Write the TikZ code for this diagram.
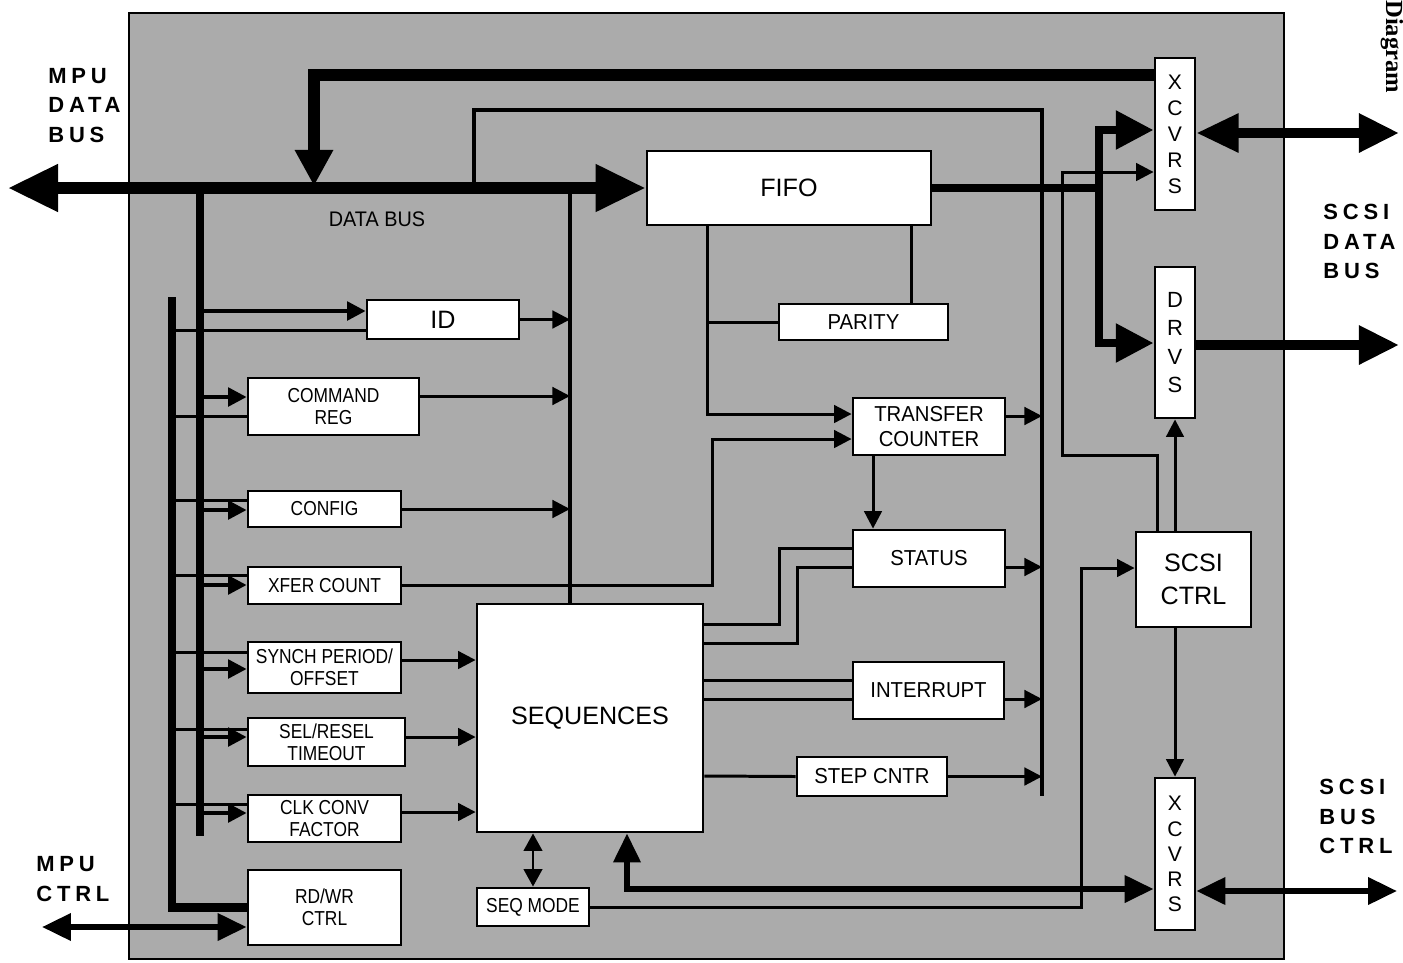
\documentclass[tikz,border=0pt]{standalone}
\usepackage{fontspec}
\setmainfont{Liberation Sans}
\newfontfamily\tightfont[FakeStretch=0.86]{Liberation Sans}
\newfontfamily\slimfont[FakeStretch=0.94]{Liberation Sans}
\newfontfamily\spacedfont[LetterSpace=22]{Liberation Sans}
\newfontfamily\tagfont{Liberation Serif}
\usepackage{tikz}
\usetikzlibrary{arrows.meta}
\definecolor{PlateGray}{gray}{0.67}
\tikzset{
  blocksize/.style 2 args={minimum width=#1*0.2mm,minimum height=#2*0.2mm},
  plate/.style={draw=black,line width=1.1pt,fill=PlateGray,inner sep=0pt},
  regbox/.style={draw=black,fill=white,line width=1.6pt,inner sep=0pt,align=center,font=\tightfont\fontsize{11.5}{12.5}\selectfont},
  unitbox/.style={regbox,font=\slimfont\fontsize{12.3}{14.2}\selectfont},
  mainbox/.style={regbox,font=\fontsize{14.3}{18.5}\selectfont},
  portbox/.style={regbox,font=\fontsize{12}{14.8}\selectfont},
  buslabel/.style={anchor=north west,inner sep=0pt,align=left,font=\spacedfont\bfseries\fontsize{12.5}{16.8}\selectfont},
  wire/.style={line width=1.7pt},
  wirearr/.style={wire,-{Triangle[length=10pt,width=10pt]}},
  feed/.style={line width=2.2pt,-{Triangle[length=10.5pt,width=10.5pt]}},
  rail/.style={line width=2.4pt},
  regrail/.style={line width=5pt},
  fatbus/.style={line width=6.3pt},
  fifobus/.style={line width=5pt},
  fifoarr/.style={fifobus,-{Triangle[length=21.5pt,width=21pt]}},
  scsibus/.style={line width=5.3pt},
  seqbus/.style={line width=3.3pt,{Triangle[length=16.5pt,width=15pt]}-{Triangle[length=16.5pt,width=15pt]}}
}

\begin{document}
\begin{tikzpicture}[x=0.2mm,y=-0.2mm]
  \useasboundingbox (0,0) rectangle (1403,962);
  \node[plate,blocksize={1155}{946}] (chip) at (706.5,486) {};

  % registers on the MPU side
  \node[mainbox,blocksize={152}{39}] (idreg) at (443,319.5) {ID};
  \node[regbox,blocksize={171}{57}] (cmdreg) at (333.5,406.5) {COMMAND\\REG};
  \node[regbox,blocksize={153}{36}] (config) at (324.5,509) {CONFIG};
  \node[regbox,blocksize={153}{37}] (xfercnt) at (324.5,585.5) {XFER COUNT};
  \node[regbox,blocksize={153}{51}] (synch) at (324.5,667.5) {SYNCH PERIOD/\\OFFSET};
  \node[regbox,blocksize={157}{48}] (selresel) at (326.5,742) {SEL/RESEL\\TIMEOUT};
  \node[regbox,blocksize={153}{47}] (clkconv) at (324.5,818.5) {CLK CONV\\FACTOR};
  \node[regbox,blocksize={153}{75}] (rdwr) at (324.5,907.5) {RD/WR\\CTRL};

  % core blocks
  \node[mainbox,blocksize={284}{74}] (fifo) at (789,188) {FIFO};
  \node[mainbox,blocksize={226}{228}] (seq) at (590,718) {SEQUENCES};
  \node[regbox,blocksize={112}{38}] (seqmode) at (533,907) {SEQ MODE};
  \node[unitbox,blocksize={169}{36}] (parity) at (863.5,322) {PARITY};
  \node[unitbox,blocksize={152}{57}] (xfrctr) at (929,426.5) {TRANSFER\\COUNTER};
  \node[unitbox,blocksize={152}{57}] (status) at (929,558.5) {STATUS};
  \node[unitbox,blocksize={151}{57}] (intr) at (928.5,690.5) {INTERRUPT};
  \node[unitbox,blocksize={150}{39}] (stepcnt) at (872,776.5) {STEP CNTR};

  % SCSI side
  \node[portbox,blocksize={40}{152}] (xcvrdata) at (1175,134) {X\\C\\V\\R\\S};
  \node[portbox,blocksize={40}{151},font=\fontsize{12.5}{16}\selectfont] (drvs) at (1175,342.5) {D\\R\\V\\S};
  \node[mainbox,blocksize={115}{95}] (scsictl) at (1193.5,579.5) {SCSI\\CTRL};
  \node[portbox,blocksize={40}{152},font=\fontsize{12}{14.3}\selectfont] (xcvrctl) at (1175,854) {X\\C\\V\\R\\S};

  % bus taps and free ends
  \coordinate (mpuend) at (8,188);
  \coordinate (regtop) at (200,188);
  \coordinate (regend) at (200,836);
  \coordinate (ctltop) at (172,297);
  \coordinate (rdtap) at (570,188);
  \coordinate (looptap) at (474,188);
  \coordinate (loopcorner) at (1042,110);
  \coordinate (collend) at (1042,796);
  \coordinate (busdrop) at (314,186);
  \coordinate (fork) at (1099,188);
  \coordinate (ptap) at (707,323);
  \coordinate (mpuctlend) at (42,927);
  \coordinate (scsidataend) at (1399,133);
  \coordinate (scsidrvend) at (1399,345);
  \coordinate (scsictlend) at (1397,891);

  % data bus
  \draw[fatbus,{Triangle[length=28.5pt,width=25.6pt]}-{Triangle[length=28.5pt,width=25.6pt]}] (mpuend) -- (fifo.west);
  \draw[fatbus,-{Triangle[length=20.5pt,width=20.5pt]}] (xcvrdata.west |- 0,75) -| (busdrop);
  \draw[rail] (looptap) |- (loopcorner) -- (collend);
  \draw[rail] (rdtap) -- (rdtap |- seq.north);
  \draw[regrail] (regtop) -- (regend);
  \draw[regrail] (ctltop) |- (rdwr.west);
  \draw[seqbus] (mpuctlend) -- (rdwr.west |- 0,927);

  % register feeds
  \draw[wire] (ctltop |- 0,330) -- (idreg.west |- 0,330);
  \draw[feed] (regtop |- 0,311) -- (idreg.west |- 0,311);
  \draw[wire] (ctltop |- 0,416) -- (cmdreg.west |- 0,416);
  \draw[feed] (regtop |- 0,397) -- (cmdreg.west |- 0,397);
  \draw[wire] (ctltop |- 0,500) -- (config.west |- 0,500);
  \draw[feed] (regtop |- 0,510) -- (config.west |- 0,510);
  \draw[wire] (ctltop |- 0,575) -- (xfercnt.west |- 0,575);
  \draw[feed] (regtop |- 0,585) -- (xfercnt.west |- 0,585);
  \draw[wire] (ctltop |- 0,652) -- (synch.west |- 0,652);
  \draw[feed] (regtop |- 0,669) -- (synch.west |- 0,669);
  \draw[wire] (ctltop |- 0,729) -- (selresel.west |- 0,729);
  \draw[feed] (regtop |- 0,737) -- (selresel.west |- 0,737);
  \draw[wire] (ctltop |- 0,804) -- (clkconv.west |- 0,804);
  \draw[feed] (regtop |- 0,813) -- (clkconv.west |- 0,813);

  % register outputs
  \draw[wirearr] (idreg.east) -- (idreg.east -| rdtap);
  \draw[wirearr] (cmdreg.east |- 0,396) -- (rdtap |- 0,396);
  \draw[wirearr] (config.east) -- (config.east -| rdtap);
  \draw[wirearr] (xfercnt.east) -| (712,439) -- (xfrctr.west |- 0,439);
  \draw[wirearr] (synch.east |- 0,660) -- (seq.west |- 0,660);
  \draw[wirearr] (selresel.east |- 0,737) -- (seq.west |- 0,737);
  \draw[wirearr] (clkconv.east |- 0,812) -- (seq.west |- 0,812);

  % FIFO paths
  \draw[fifobus] (fifo.east) -- (fork);
  \draw[fifoarr] (fork) |- (xcvrdata.west |- 0,130);
  \draw[fifoarr] (fork) |- (drvs.west |- 0,343);
  \draw[wire] (fifo.south -| 911,0) -- (parity.north -| 911,0);
  \draw[wirearr] (fifo.south -| ptap) |- (xfrctr.west |- 0,414);
  \draw[wire] (parity.west -| ptap) -- (parity.west);

  % counters and status
  \draw[wirearr] (xfrctr.south -| 873,0) -- (status.north -| 873,0);
  \draw[wire] (seq.east |- 0,624) -| (779,548) -- (status.west |- 0,548);
  \draw[wire] (seq.east |- 0,643) -| (797,567) -- (status.west |- 0,567);
  \draw[wire] (seq.east |- 0,680) -- (intr.west |- 0,680);
  \draw[wire] (seq.east |- 0,699) -- (intr.west |- 0,699);
  \draw[wire] (seq.east |- 0,776) -- (stepcnt.west);
  \draw[wirearr] (xfrctr.east |- 0,416) -- (collend |- 0,416);
  \draw[wirearr] (status.east |- 0,567) -- (collend |- 0,567);
  \draw[wirearr] (intr.east |- 0,699) -- (collend |- 0,699);
  \draw[wirearr] (stepcnt.east) -- (stepcnt.east -| collend);

  % SCSI side paths
  \draw[scsibus,{Triangle[length=24pt,width=21pt]}-{Triangle[length=22.8pt,width=21pt]}] (xcvrdata.east |- 0,133) -- (scsidataend);
  \draw[scsibus,-{Triangle[length=22.8pt,width=21pt]}] (drvs.east |- 0,345) -- (scsidrvend);
  \draw[seqbus] (seq.south -| 627,0) |- (xcvrctl.west |- 0,889);
  \draw[wire,{Triangle[length=10pt,width=10.5pt]}-{Triangle[length=10pt,width=10.5pt]}] (seqmode.north -| 533,0) -- (seq.south -| 533,0);
  \draw[wirearr] (seqmode.east) -| (1081,568) -- (scsictl.west |- 0,568);
  \draw[wirearr] (scsictl.north -| 1157,0) |- (1062,455) |- (xcvrdata.west |- 0,172);
  \draw[wirearr] (drvs.south |- scsictl.north) -- (drvs.south);
  \draw[wirearr] (xcvrctl.north |- scsictl.south) -- (xcvrctl.north);
  \draw[seqbus] (xcvrctl.east |- 0,891) -- (scsictlend);

  % labels
  \node[font=\slimfont\fontsize{12}{14}\selectfont] (dbuslabel) at (377,219) {DATA BUS};
  \node[buslabel] (mpudata) at (48,68) {MPU\\DATA\\BUS};
  \node[buslabel] (mpuctrl) at (36,856) {MPU\\CTRL};
  \node[buslabel] (scsidata) at (1323,204) {SCSI\\DATA\\BUS};
  \node[buslabel] (scsictrl) at (1319,779) {SCSI\\BUS\\CTRL};
  \node[rotate=-90,anchor=west,inner sep=0pt,font=\tagfont\bfseries\fontsize{14}{16}\selectfont] (pagetag) at (1392,0) {Diagram};
\end{tikzpicture}
\end{document}
